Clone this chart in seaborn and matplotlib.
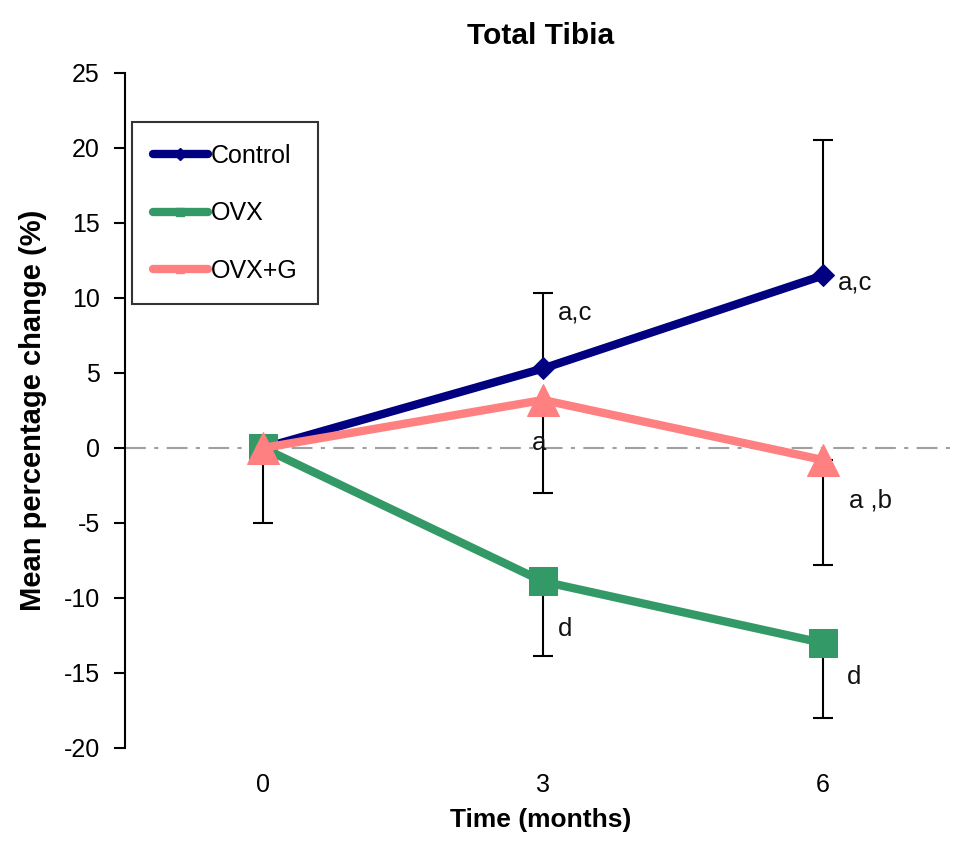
import numpy as np
import pandas as pd
import seaborn as sns
import matplotlib.pyplot as plt
from matplotlib.lines import Line2D

# data
time = [0, 3, 6]
groups = ['Control', 'OVX', 'OVX+G']
control = [0, 5.3, 11.5]
control_err_up = [0, 5.0, 9.0]
ovx = [0, -8.9, -13.0]
ovx_err_down = [0, 5.0, 5.0]
ovxg = [0, 3.2, -0.8]
ovxg_err_down = [5.0, 6.2, 7.0]

labels_txt = ['a,c', 'a,c', 'a', 'a ,b', 'd', 'd']
labels_x = [3.16, 6.16, 2.88, 6.28, 3.16, 6.26]
labels_y = [9.0, 11.0, 0.3, -3.5, -12.1, -15.3]

sns.set_style('white')
plt.rcParams['font.family'] = ['Liberation Sans', 'DejaVu Sans']
plt.rcParams['axes.unicode_minus'] = False
plt.rcParams['text.color'] = 'black'
plt.rcParams['axes.labelcolor'] = 'black'
plt.rcParams['xtick.color'] = 'black'
plt.rcParams['ytick.color'] = 'black'

colors = {'Control': '#000080', 'OVX': '#339966', 'OVX+G': '#FF8080'}
markers = {'Control': 'D', 'OVX': 's', 'OVX+G': '^'}
msizes = {'Control': 11, 'OVX': 20, 'OVX+G': 23}

fig = plt.figure(figsize=(9.57, 8.41), dpi=100)
ax = fig.add_axes([0.1306, 0.1106, 0.8694, 0.8026])

ax.axhline(0, color='#a0a0a0', lw=1.5, ls=(0, (10, 4, 2, 4)), zorder=1)

# error bars (one-sided as in the original)
def err(x, y, lo, hi):
    x = np.array(x); y = np.array(y); lo = np.array(lo); hi = np.array(hi)
    keep = (lo > 0) | (hi > 0)
    ax.errorbar(x[keep], y[keep], yerr=[lo[keep], hi[keep]], fmt='none',
                ecolor='black', elinewidth=1.5, capsize=7, capthick=1.5, zorder=2)

err(time, control, [0, 0, 0], control_err_up)
err(time, ovx, ovx_err_down, [0, 0, 0])
err(time, ovxg, ovxg_err_down, [0, 0, 0])

df = pd.DataFrame({'time': time * 3,
                   'value': control + ovx + ovxg,
                   'group': sum([[g] * 3 for g in groups], [])})

for g in groups:
    sub = df[df['group'] == g]
    sns.lineplot(data=sub, x='time', y='value', color=colors[g], marker=markers[g],
                 markersize=msizes[g], markeredgecolor=colors[g], linewidth=6,
                 ax=ax, legend=False, zorder=3)

for t, x, y in zip(labels_txt, labels_x, labels_y):
    ax.text(x, y, t, fontsize=18.5, va='center', ha='left', color='#111111')

ax.set_xlim(-1.479, 7.436)
ax.set_ylim(-20, 25)
ax.set_xticks(time)
ax.set_yticks(range(-20, 26, 5))
ax.tick_params(axis='y', direction='out', length=8, width=1.5, left=True, labelsize=18, pad=10)
ax.tick_params(axis='x', length=0, labelsize=18, pad=18)
for s in ['top', 'right', 'bottom']:
    ax.spines[s].set_visible(False)
ax.spines['left'].set_color('black')
ax.spines['left'].set_linewidth(1.5)

ax.set_xlabel('Time (months)', fontsize=19, fontweight='bold', labelpad=8)
ax.set_ylabel('Mean percentage change (%)', fontsize=21, fontweight='bold', labelpad=12)
ax.set_title('Total Tibia', fontsize=21.5, fontweight='bold', pad=21)

handles = [Line2D([0], [0], color=colors[g], lw=6, marker=markers[g], markersize=6)
           for g in groups]
leg = ax.legend(handles, groups, loc='upper left', bbox_to_anchor=(0.008, 0.927),
                borderaxespad=0, fontsize=18, frameon=True, fancybox=False,
                handlelength=2.2, handletextpad=0.1, labelspacing=1.35,
                borderpad=0.85)
leg.get_frame().set_edgecolor('black')
leg.get_frame().set_linewidth(1.5)

fig.savefig('out.png', dpi=100)
